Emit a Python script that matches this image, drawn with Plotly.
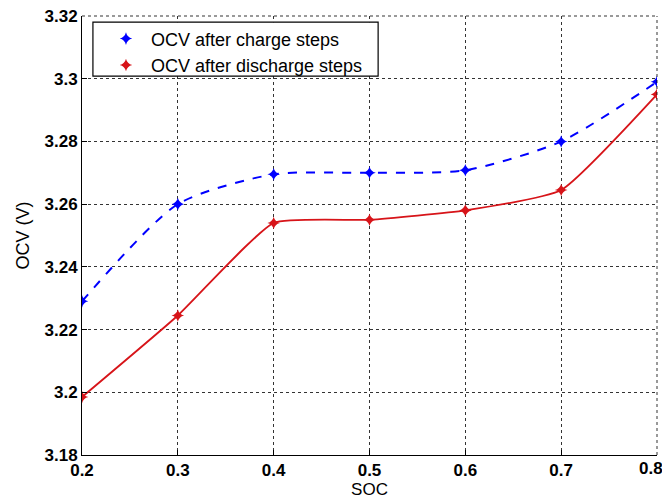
import plotly.graph_objects as go

soc = [0.2, 0.3, 0.4, 0.5, 0.6, 0.7, 0.8]
ocv_charge = [3.229, 3.260, 3.2695, 3.270, 3.2708, 3.280, 3.299]
ocv_discharge = [3.1985, 3.2245, 3.254, 3.255, 3.258, 3.2645, 3.295]
x_ticks = [0.2, 0.3, 0.4, 0.5, 0.6, 0.7, 0.8]
y_ticks = [3.18, 3.2, 3.22, 3.24, 3.26, 3.28, 3.3, 3.32]
x_labels = ["0.2", "0.3", "0.4", "0.5", "0.6", "0.7", "0.8"]
y_labels = ["3.18", "3.2", "3.22", "3.24", "3.26", "3.28", "3.3", "3.32"]

blue = "rgb(0,0,255)"
red = "rgb(215,20,25)"
font = "Liberation Sans, Arial, sans-serif"

fig = go.Figure()
fig.add_trace(go.Scatter(x=soc, y=ocv_charge, mode="lines+markers", showlegend=False,
                         line=dict(color=blue, width=2, dash="dash", shape="spline", smoothing=0.7),
                         marker=dict(symbol="star-diamond", size=9, color=blue)))
fig.add_trace(go.Scatter(x=soc, y=ocv_discharge, mode="lines+markers", showlegend=False,
                         line=dict(color=red, width=1.8, shape="spline", smoothing=0.45),
                         marker=dict(symbol="star-diamond", size=9, color=red)))
fig.add_trace(go.Scatter(x=[None], y=[None], mode="markers", name="OCV after charge steps",
                         marker=dict(symbol="star-diamond", size=9, color=blue)))
fig.add_trace(go.Scatter(x=[None], y=[None], mode="markers", name="OCV after discharge steps",
                         marker=dict(symbol="star-diamond", size=9, color=red)))

tick_font = dict(family=font, size=17, color="black", weight="bold")
axis_common = dict(showgrid=True, gridcolor="rgba(0,0,0,0.8)", griddash="dot", gridwidth=1,
                   showline=True, linecolor="black", linewidth=1, mirror=False,
                   ticks="inside", ticklen=5, tickcolor="black", zeroline=False,
                   automargin=False, ticklabeloverflow="allow", tickfont=tick_font)

# last x tick label is placed as an annotation so it stays inside the page
fig.update_xaxes(range=[0.2, 0.8], tickvals=x_ticks[:-1], ticktext=x_labels[:-1],
                 title=dict(text="SOC", font=dict(family=font, size=17, color="black"), standoff=3),
                 **axis_common)
fig.add_annotation(x=x_ticks[-1], y=0, xref="x", yref="paper", text=x_labels[-1],
                   showarrow=False, xanchor="center", yanchor="top", xshift=-6, yshift=-2,
                   font=tick_font)
fig.update_yaxes(range=[3.18, 3.32], tickvals=y_ticks, ticktext=y_labels,
                 title=dict(text="OCV (V)", font=dict(family=font, size=18, color="black"), standoff=10),
                 **axis_common)

# dotted top and right frame edges
fig.add_shape(type="line", xref="paper", yref="paper", x0=0, x1=1, y0=1, y1=1,
              line=dict(color="rgba(0,0,0,0.8)", width=1, dash="dot"))
fig.add_shape(type="line", xref="paper", yref="paper", x0=1, x1=1, y0=0, y1=1,
              line=dict(color="rgba(0,0,0,0.8)", width=1, dash="dot"))
# legend frame
fig.add_shape(type="rect", xref="paper", yref="paper", x0=0.019, x1=0.515, y0=0.863, y1=0.986,
              fillcolor="white", line=dict(color="black", width=1.2), layer="above")

fig.update_layout(
    width=662, height=494,
    margin=dict(l=74, r=13, t=8, b=47),
    plot_bgcolor="white", paper_bgcolor="white",
    font=dict(family=font, size=17, color="black"),
    legend=dict(x=0.033, y=0.99, xanchor="left", yanchor="top",
                bgcolor="rgba(0,0,0,0)", borderwidth=0,
                font=dict(family=font, size=18, color="black"),
                tracegroupgap=0, itemwidth=40),
)

fig.write_html("out.html")
